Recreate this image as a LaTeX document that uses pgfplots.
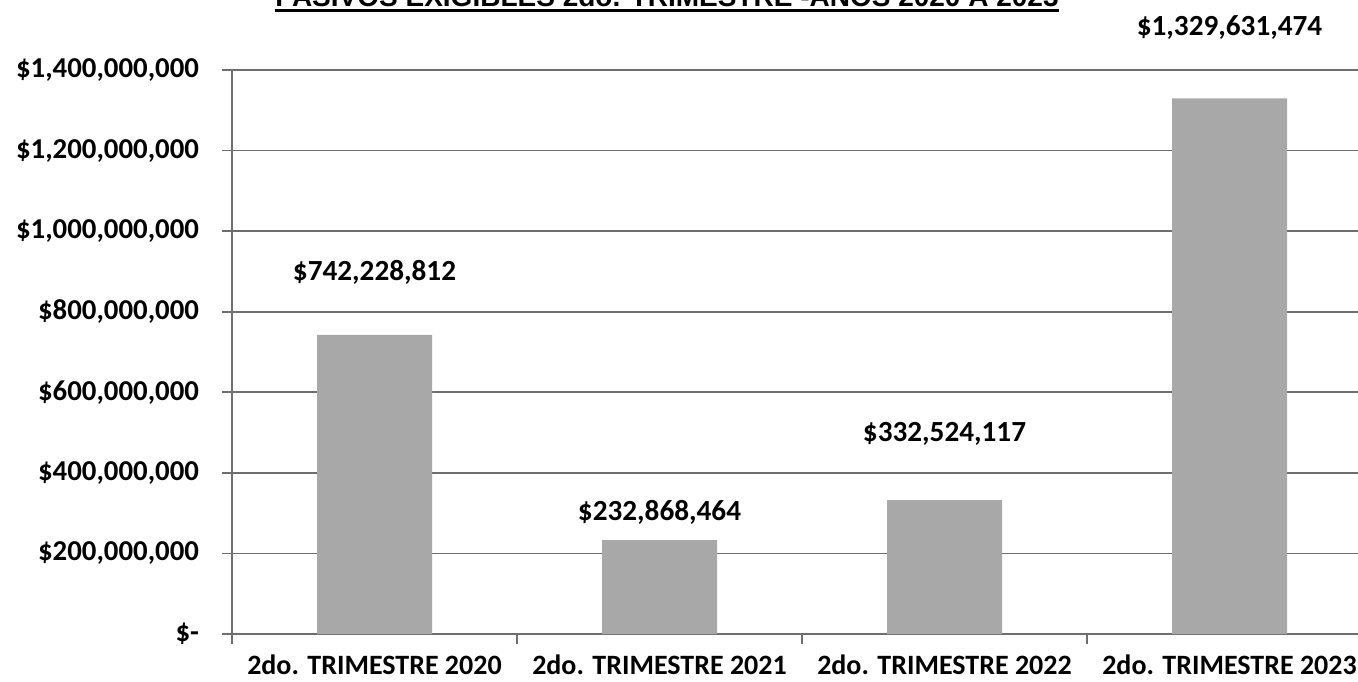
\documentclass[border=0pt]{standalone}
\usepackage{pgfplots}
\pgfplotsset{compat=1.18}
\usepackage{pgfplotstable}
\usepackage{fontspec}
\setmainfont{Carlito}
\newfontfamily\titlefont{Liberation Sans}
\definecolor{bargray}{RGB}{168,168,168}
\definecolor{gridgray}{RGB}{110,110,110}

\pgfplotstableread{
x y off lbl
0 742228812 31.5 {\$742,228,812}
1 232868464 14 {\$232,868,464}
2 332524117 33 {\$332,524,117}
3 1329631474 35.5 {\$1,329,631,474}
}\datatable

\begin{document}
\begin{tikzpicture}
\useasboundingbox (0,0) rectangle (679pt,340.5pt);
\clip (0,0) rectangle (679pt,340.5pt);
\begin{axis}[
  at={(116pt,23.5pt)}, anchor=south west,
  scale only axis, width=570pt, height=282pt,
  xmin=-0.5, xmax=3.5, ymin=0, ymax=1.4e9,
  ybar, bar width=57.5pt,
  axis x line*=bottom, axis y line*=left,
  axis line style={draw=gridgray, line width=0.8pt},
  tick align=outside, major tick length=5pt,
  tick style={draw=gridgray, line width=0.8pt},
  xtick={-0.5,0.5,1.5,2.5,3.5}, xticklabels={},
  extra x ticks={0,1,2,3},
  extra x tick labels={2do. TRIMESTRE 2020, 2do. TRIMESTRE 2021, 2do. TRIMESTRE 2022, 2do. TRIMESTRE 2023},
  extra x tick style={major tick length=0pt, grid=none},
  ytick={0,200000000,400000000,600000000,800000000,1000000000,1200000000,1400000000},
  yticklabels={{\$-},{\$200,000,000},{\$400,000,000},{\$600,000,000},{\$800,000,000},{\$1,000,000,000},{\$1,200,000,000},{\$1,400,000,000}},
  ymajorgrids, major grid style={draw=gridgray, line width=0.8pt},
  yticklabel style={font=\bfseries\fontsize{14.4}{16}\selectfont, text=black, xshift=-8pt},
  xticklabel style={font=\bfseries\fontsize{14}{16}\selectfont, text=black, inner sep=0pt, yshift=-10pt},
  scaled y ticks=false,
  point meta=explicit symbolic,
  nodes near coords,
  visualization depends on={\thisrow{off} \as \myoff},
  every node near coord/.append style={anchor=center, yshift=\myoff pt, font=\bfseries\fontsize{14.6}{16}\selectfont, text=black},
]
\addplot[fill=bargray, draw=none] table[x=x, y=y, meta=lbl] {\datatable};
\end{axis}
\node[anchor=base, inner sep=0, font=\titlefont\bfseries\fontsize{14}{16}\selectfont] (T) at (333.5pt,337pt) {PASIVOS EXIGIBLES 2do. TRIMESTRE -AÑOS 2020 A 2023};
\draw[line width=1.1pt] ([yshift=-1.8pt]T.base west) -- ([yshift=-1.8pt]T.base east);
\end{tikzpicture}
\end{document}
